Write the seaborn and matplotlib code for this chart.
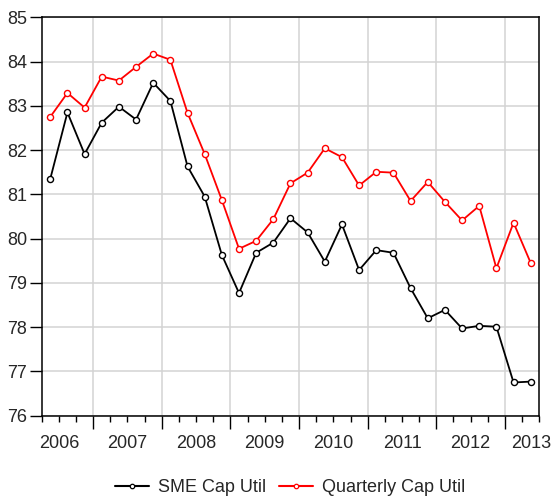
import numpy as np
import pandas as pd
import matplotlib
matplotlib.use("Agg")
import matplotlib.pyplot as plt
from matplotlib.lines import Line2D
import seaborn as sns

# ---- data ----
quarters = ["2006Q2", "2006Q3", "2006Q4",
            "2007Q1", "2007Q2", "2007Q3", "2007Q4",
            "2008Q1", "2008Q2", "2008Q3", "2008Q4",
            "2009Q1", "2009Q2", "2009Q3", "2009Q4",
            "2010Q1", "2010Q2", "2010Q3", "2010Q4",
            "2011Q1", "2011Q2", "2011Q3", "2011Q4",
            "2012Q1", "2012Q2", "2012Q3", "2012Q4",
            "2013Q1", "2013Q2"]
sme_cap_util = [81.35, 82.85, 81.91,
                82.62, 82.98, 82.69, 83.52,
                83.11, 81.63, 80.95, 79.63,
                78.77, 79.68, 79.91, 80.46,
                80.14, 79.48, 80.32, 79.29,
                79.74, 79.68, 78.88, 78.20,
                78.39, 77.97, 78.03, 78.01,
                76.75, 76.77]
quarterly_cap_util = [82.75, 83.29, 82.96,
                      83.66, 83.57, 83.88, 84.18,
                      84.04, 82.84, 81.91, 80.87,
                      79.77, 79.95, 80.44, 81.25,
                      81.49, 82.04, 81.84, 81.20,
                      81.51, 81.49, 80.85, 81.28,
                      80.83, 80.41, 80.74, 79.33,
                      80.36, 79.45]
series_names = ["SME Cap Util", "Quarterly Cap Util"]
series_colors = ["black", "red"]
year_labels = ["2006", "2007", "2008", "2009", "2010", "2011", "2012", "2013"]
y_ticks = [76, 77, 78, 79, 80, 81, 82, 83, 84, 85]

# positions: middle of each quarter, in fractional years
def qpos(q):
    y, qq = int(q[:4]), int(q[-1])
    return y + (qq - 1) / 4 + 0.125

xpos = [qpos(q) for q in quarters]
df = pd.DataFrame({
    "x": xpos * 2,
    "value": sme_cap_util + quarterly_cap_util,
    "series": [series_names[0]] * len(xpos) + [series_names[1]] * len(xpos),
})

sns.set_style("white")
plt.rcParams["font.family"] = ["Liberation Sans", "DejaVu Sans"]
plt.rcParams["font.size"] = 13

fig = plt.figure(figsize=(5.53, 4.98), dpi=100)
ax = fig.add_axes([0.0754, 0.1653, 0.9752 - 0.0754, 0.9653 - 0.1653])

sns.lineplot(data=df, x="x", y="value", hue="series",
             palette=series_colors, marker="o", dashes=False,
             linewidth=1.3, markersize=4.4, markerfacecolor="white",
             markeredgewidth=1.0, ax=ax, legend=False)
for ln, c in zip(ax.lines, series_colors):
    ln.set_markeredgecolor(c)
    ln.set_markerfacecolor("white")

x0, x1 = 2006.25, 2013.5
ax.set_xlim(x0, x1)
ax.set_ylim(76, 85)
ax.set_yticks(y_ticks)
ax.set_yticklabels([str(v) for v in y_ticks])

years = np.arange(2007, 2014)
ax.set_xticks(years)
ax.set_xticklabels([""] * len(years))
ax.set_xticks(np.arange(x0, x1 + 0.01, 0.25), minor=True)
ax.tick_params(axis="x", which="major", bottom=True, length=9, width=1, direction="out", color="black")
ax.tick_params(axis="x", which="minor", bottom=True, length=4.5, width=1, direction="out", color="black")
ax.tick_params(axis="y", which="major", left=True, length=8.5, width=1, direction="out", color="black",
               pad=2, labelsize=13)

ax.grid(True, which="major", color="#d3d3d3", linewidth=1.1)
ax.set_axisbelow(True)
for s in ax.spines.values():
    s.set_color("black")
    s.set_linewidth(1.1)

# year labels
lab_pos = [int(y) + 0.5 for y in year_labels]
lab_pos[-1] = 2013.375
sec = ax.secondary_xaxis("bottom")
sec.set_xticks(lab_pos)
sec.set_xticklabels(year_labels)
sec.tick_params(length=0, pad=14, labelsize=13)
sec.spines["bottom"].set_visible(False)

ax.set_xlabel("")
ax.set_ylabel("")

handles = [Line2D([], [], color=c, linewidth=1.5, marker="o", markersize=3.2,
                  markerfacecolor="white", markeredgecolor=c, markeredgewidth=0.9)
           for c in series_colors]
ax.legend(handles=handles, labels=series_names, loc="center", bbox_to_anchor=(0.499, -0.18),
          ncol=2, frameon=False, fontsize=13, handlelength=1.9, handletextpad=0.5,
          columnspacing=0.7)

fig.savefig("out.png", dpi=100)
